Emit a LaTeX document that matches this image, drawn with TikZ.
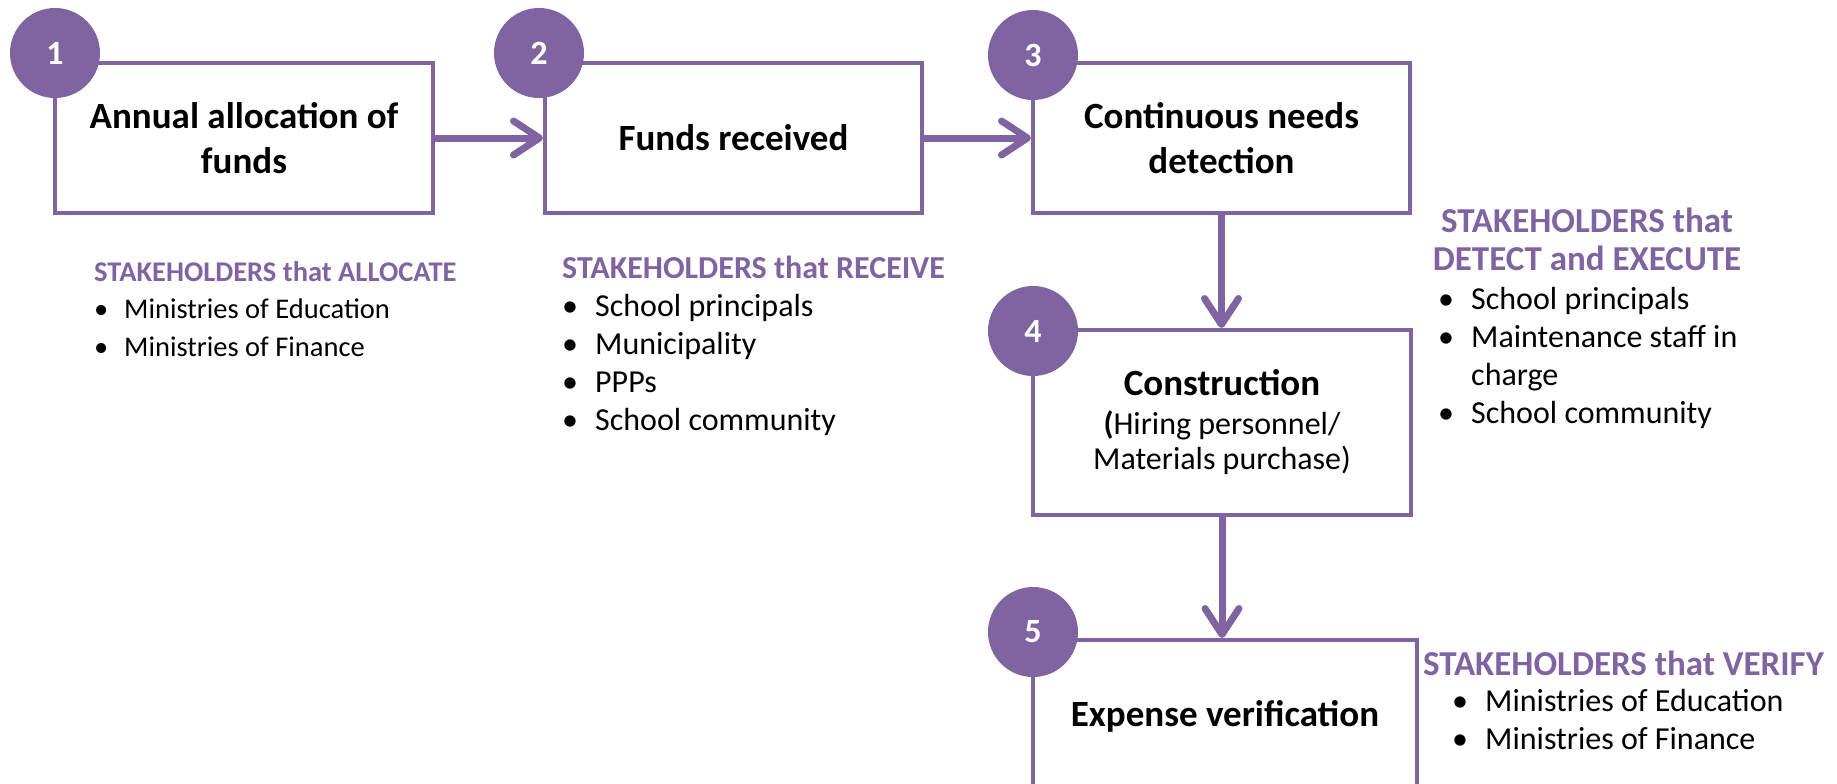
\documentclass[tikz,border=0pt]{standalone}
\usepackage{fontspec}
\setmainfont{Carlito}
\usetikzlibrary{arrows.meta}

\definecolor{stepPurple}{HTML}{8064A2}
\newcommand{\titleFont}{\fontsize{37bp}{45bp}\selectfont\bfseries}
\newcommand{\bodyFont}{\fontsize{32bp}{38bp}\selectfont}
\newcommand{\smallFont}{\fontsize{28.5bp}{37.5bp}\selectfont}
\newcommand{\itemMark}{\makebox[33bp][l]{\textbullet}}
\newcommand{\smallMark}{\makebox[30bp][l]{\textbullet}}
\newcommand{\headText}[1]{{\color{stepPurple}\bfseries #1}}

\begin{document}
\begin{tikzpicture}[x=1bp,y=-1bp,%%
  boxStyle/.style={draw=stepPurple,line width=4bp,fill=white,inner sep=0pt,
    align=center,font=\titleFont},%%
  numStyle/.style={circle,fill=stepPurple,minimum size=90bp,inner sep=0pt,
    text=white,font=\fontsize{34bp}{40bp}\selectfont\bfseries},%%
  arrowStyle/.style={draw=stepPurple,line width=7bp,
    -{Straight Barb[length=26bp,width=34bp,round]}},%%
  headStyle/.style={text=stepPurple,font=\fontsize{35bp}{38bp}\selectfont\bfseries,
    inner sep=0pt,align=center},%%
  listStyle/.style={font=\bodyFont,inner sep=0pt,align=left,anchor=north west}
]
\useasboundingbox (0,0) rectangle (1837,784);
%%
%% The five steps.
%%
\node[boxStyle,minimum width=378bp,minimum height=150bp] (annual) at (244,138)
  {Annual allocation of\\funds};
\node[boxStyle,minimum width=377bp,minimum height=150bp] (received) at (733.5,138)
  {Funds received};
\node[boxStyle,minimum width=377bp,minimum height=150bp] (needs) at (1221.5,138)
  {Continuous needs\\detection};
\node[boxStyle,minimum width=378bp,minimum height=185bp] (construction) at (1222,422.5)
  {Construction\\[-6bp]{\bodyFont\mdseries\textbf{(}Hiring personnel/}\\[-10bp]
   {\bodyFont\mdseries Materials purchase)}};
%% The last box runs off the bottom edge.
\node[boxStyle,minimum width=384bp,minimum height=152bp] (expense) at (1225,716)
  {Expense verification};
%%
%% The arrows between them.
\draw[arrowStyle] (annual) -- (received);
\draw[arrowStyle] (received) -- (needs);
\draw[arrowStyle] (needs.south) -- (needs.south |- construction.north);
\draw[arrowStyle] (construction.south) -- (construction.south |- expense.north);
%%
%% The numbers on the corners.
\node[numStyle] (one) at (55,53) {1};
\node[numStyle] (two) at (539,53) {2};
\node[numStyle] (three) at (1033,55) {3};
\node[numStyle] (four) at (1033,331) {4};
\node[numStyle] (five) at (1033,632) {5};
%%
%% The stakeholders of each step.
%%
\node[listStyle,font=\smallFont] (allocate) at (94,261)
  {\headText{STAKEHOLDERS that ALLOCATE}\\
   \smallMark Ministries of Education\\
   \smallMark Ministries of Finance};
\node[listStyle] (receive) at (562,256)
  {\headText{STAKEHOLDERS that RECEIVE}\\
   \itemMark School principals\\
   \itemMark Municipality\\
   \itemMark PPPs\\
   \itemMark School community};
\node[headStyle] (detect) at (1587,239) {STAKEHOLDERS that\\DETECT and EXECUTE};
\node[listStyle] (execute) at (1438,287)
  {\itemMark School principals\\
   \itemMark Maintenance staff in\\
   \hspace*{33bp}charge\\
   \itemMark School community};
\node[headStyle,anchor=west] (verify) at (1423,663) {STAKEHOLDERS that VERIFY};
\node[listStyle] (verifyList) at (1452,689)
  {\itemMark Ministries of Education\\
   \itemMark Ministries of Finance};
\end{tikzpicture}
\end{document}
